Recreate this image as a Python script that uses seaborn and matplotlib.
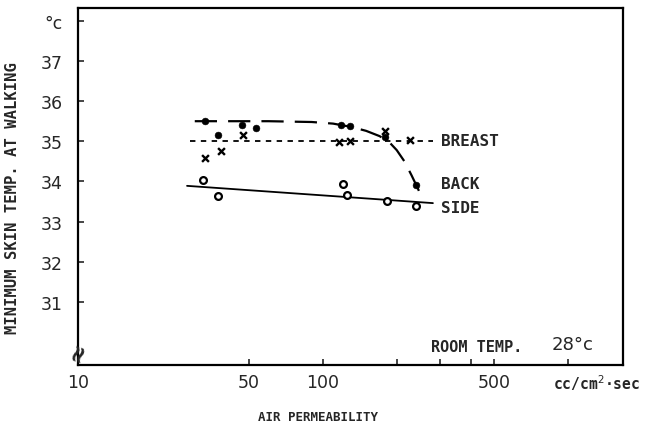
"""Minimum skin temperature at walking vs. air permeability of clothing."""

import matplotlib

matplotlib.use("Agg")

import matplotlib.pyplot as plt
import matplotlib.ticker as mticker
import seaborn as sns

# measured points
back_x = [33, 37.3, 46.7, 53.4, 118, 129, 179, 240]
back_y = [35.5, 35.16, 35.41, 35.33, 35.41, 35.38, 35.1, 33.91]

breast_x = [33, 38.4, 47.2, 116, 129, 179, 226]
breast_y = [34.58, 34.76, 35.15, 34.98, 35.0, 35.26, 35.03]

side_x = [32.4, 37.3, 121, 125, 182, 240]
side_y = [34.04, 33.64, 33.94, 33.66, 33.51, 33.39]

# hand-drawn trend curves
back_curve_x = [30, 60, 90, 110, 130, 150, 170, 185, 200, 215, 230, 245, 254]
back_curve_y = [35.5, 35.5, 35.48, 35.44, 35.36, 35.26, 35.13, 35.0, 34.78, 34.5, 34.15, 33.8, 33.55]
breast_curve_x = [28.7, 281]
breast_curve_y = [35.0, 35.0]
side_curve_x = [27.9, 281]
side_curve_y = [33.89, 33.46]

y_ticks = [31, 32, 33, 34, 35, 36, 37, 38]
y_tick_labels = ["31", "32", "33", "34", "35", "36", "37", "°c"]
x_ticks = [10, 50, 100, 500]
x_minor = [200, 300, 400, 1000]

sns.set_theme(style="ticks")
plt.rcParams["font.family"] = ["DejaVu Sans"]

fig = plt.figure(figsize=(6.54, 4.27), dpi=100)
ax = fig.add_axes([0.119, 0.143, 0.834, 0.836])
ax.set_xscale("log")

ink = "black"
sns.lineplot(x=back_curve_x, y=back_curve_y, ax=ax, color=ink, lw=1.6,
             sort=False, estimator=None)
ax.lines[-1].set_dashes([10, 5])
sns.lineplot(x=breast_curve_x, y=breast_curve_y, ax=ax, color=ink, lw=1.3,
             sort=False, estimator=None)
ax.lines[-1].set_dashes([3, 3])
sns.lineplot(x=side_curve_x, y=side_curve_y, ax=ax, color=ink, lw=1.3,
             sort=False, estimator=None)

sns.scatterplot(x=back_x, y=back_y, ax=ax, color=ink, marker="o", s=24,
                edgecolor=ink, zorder=3)
sns.scatterplot(x=breast_x, y=breast_y, ax=ax, color=ink, marker="x", s=24,
                linewidth=1.7, zorder=3)
sns.scatterplot(x=side_x, y=side_y, ax=ax, marker="o", s=24, facecolor="white",
                edgecolor=ink, linewidth=1.6, zorder=3)

mono = dict(fontfamily="DejaVu Sans Mono", fontweight="bold")
ax.text(302, 35.03, "BREAST", fontsize=11.5, va="center", **mono)
ax.text(302, 33.95, "BACK", fontsize=11.5, va="center", **mono)
ax.text(302, 33.35, "SIDE", fontsize=11.5, va="center", **mono)
ax.text(276, 29.9, "ROOM TEMP.", fontsize=11, va="center", **mono)
ax.text(861, 29.95, "28°c", fontsize=13, va="center")

ax.set_xlim(10, 1680)
ax.set_ylim(29.43, 38.32)
ax.set_xticks(x_ticks, [str(v) for v in x_ticks])
ax.xaxis.set_minor_locator(mticker.FixedLocator(x_minor))
ax.xaxis.set_minor_formatter(mticker.NullFormatter())
ax.set_yticks(y_ticks, y_tick_labels)
ax.tick_params(axis="both", which="both", direction="in", length=4, width=1.2,
               labelsize=12.5)
ax.tick_params(axis="x", pad=6)
ax.tick_params(axis="y", pad=11)
for side in ax.spines.values():
    side.set_linewidth(1.6)
    side.set_color(ink)

# axis break on the y axis
ax.text(10, 29.78, "≈", fontsize=17, fontweight="bold", rotation=70,
        ha="center", va="center", clip_on=False)

ax.set_xlabel("AIR PERMEABILITY", fontsize=9, **mono)
ax.xaxis.set_label_coords(0.44, -0.126)
ax.set_ylabel("MINIMUM SKIN TEMP. AT WALKING", fontsize=11.2, **mono)
ax.yaxis.set_label_coords(-0.106, 0.47)
fig.text(0.912, 0.103, "cc/cm$^2$·sec", fontsize=10.5, ha="center", va="center",
         **mono)

fig.savefig("out.png", dpi=100)
